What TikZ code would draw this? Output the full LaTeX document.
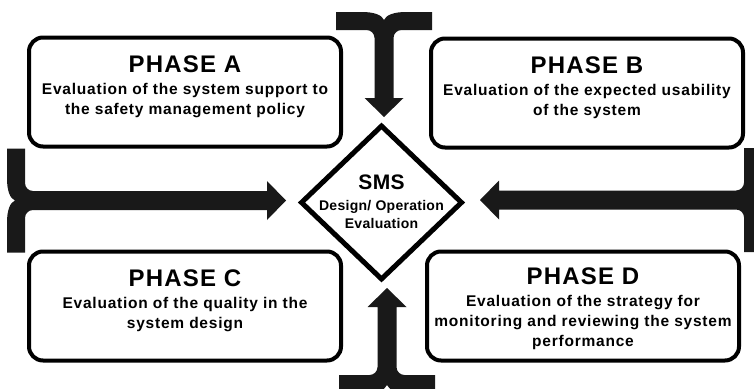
\documentclass[tikz,border=0pt]{standalone}
\usepackage{fontspec}
\setmainfont{Liberation Sans}
\usetikzlibrary{shapes.geometric}
\colorlet{ink}{black!90}
\newcommand{\titlefont}{\fontsize{24}{26}\selectfont\bfseries}
\newcommand{\bodyfont}{\fontsize{15.5}{20}\selectfont\bfseries\addfontfeatures{LetterSpace=5}}
\newcommand{\smsfont}{\fontsize{14}{18}\selectfont\bfseries\addfontfeatures{LetterSpace=2}}
\newcommand{\feedarrow}[4]{\fill [ink,shift={#1},rotate=#2] (-#3,0) -- (-22,0) .. controls (-10,0) and (-2,3) .. (0,8) .. controls (2,3) and (10,0) .. (22,0) -- (#3,0) -- (#3,18) -- (17.5,18) .. controls (13.1,18) and (9.5,21.6) .. (9.5,26) -- (9.5,#4) -- (19.5,#4) -- (0,{#4+19}) -- (-19.5,#4) -- (-9.5,#4) -- (-9.5,26) .. controls (-9.5,21.6) and (-13.1,18) .. (-17.5,18) -- (-#3,18) -- cycle;}

\begin{document}
\begin{tikzpicture}[x=1pt,y=-1pt,
  phase/.style={draw,line width=4pt,rounded corners=14pt,minimum width=312pt,minimum height=109pt,inner sep=0pt},
  phasetext/.style={align=center,font=\bodyfont,inner sep=0pt},
  centre/.style={draw,diamond,line width=5pt,minimum width=162pt,minimum height=155pt,inner sep=0pt}]

\useasboundingbox [fill=white] (0,0) rectangle (754,388);
\clip (0,0) rectangle (754,388);

\feedarrow{(384,12)}{0}{48}{86}
\feedarrow{(387,393)}{180}{48}{86}
\feedarrow{(7,200.5)}{90}{52}{260}
\feedarrow{(762,200)}{-90}{52}{263}

\node [phase] (pa) at (185,92) {};
\node [phase] (pb) at (587,93) {};
\node [phase] (pc) at (185,306) {};
\node [phase] (pd) at (583,306) {};

\node [phasetext] (ta) at ([yshift=5pt]pa.center) {{\titlefont PHASE A}\\[2pt]Evaluation of the system support to\\the safety management policy};
\node [phasetext] (tb) at ([yshift=5pt]pb.center) {{\titlefont PHASE B}\\[2pt]Evaluation of the expected usability\\of the system};
\node [phasetext] (tc) at ([yshift=5pt]pc.center) {{\titlefont PHASE C}\\[2pt]Evaluation of the quality in the\\system design};
\node [phasetext] (td) at ([yshift=-3pt]pd.center) {{\titlefont PHASE D}\\[2pt]Evaluation of the strategy for\\monitoring and reviewing the system\\performance};

\node [centre] (sms) at (381.5,202.5) {};
\node [align=center,font=\smsfont,inner sep=0pt] (smstext) at ([yshift=1pt]sms.center) {{\fontsize{21}{22}\selectfont SMS}\\[3pt]Design/ Operation\\Evaluation};

\end{tikzpicture}
\end{document}
